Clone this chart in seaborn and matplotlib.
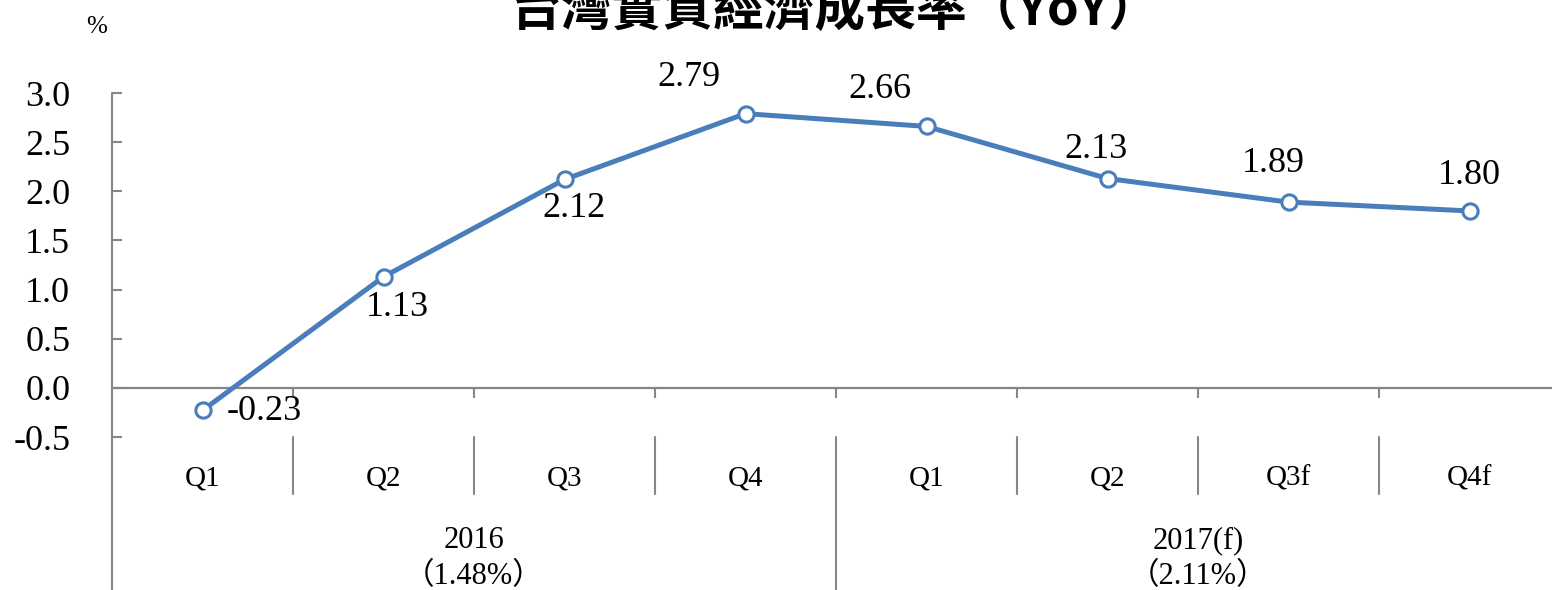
import numpy as np
import matplotlib
matplotlib.use("Agg")
import matplotlib.pyplot as plt
import matplotlib.transforms as mtrans
from matplotlib.ticker import FormatStrFormatter
import seaborn as sns
import pandas as pd

# ---- data ----
quarters = ["Q1", "Q2", "Q3", "Q4", "Q1", "Q2", "Q3f", "Q4f"]
growth = [-0.23, 1.13, 2.12, 2.79, 2.66, 2.13, 1.89, 1.80]
years = ["2016", "2017(f)"]
year_totals = ["（1.48%）", "（2.11%）"]
title = "台灣實質經濟成長率（YoY）"
y_ticks = [-0.5, 0.0, 0.5, 1.0, 1.5, 2.0, 2.5, 3.0]

# label offsets (pixels) relative to the points
label_offsets = [(62, -1), (14, -31), (10, -29), (-57, 36),
                 (-47, 37), (-11, 29), (-15, 39), (0, 35)]

sns.set_style("white")
plt.rcParams["font.family"] = ["Liberation Serif", "Noto Sans CJK TC", "DejaVu Sans"]
plt.rcParams["axes.unicode_minus"] = False
plt.rcParams["text.color"] = "black"
plt.rcParams["ytick.labelcolor"] = "black"

GRAY = "#868686"
BLUE = "#4a7ebb"

W, H = 1552, 590
fig = plt.figure(figsize=(W / 100, H / 100), dpi=100)
ax = fig.add_axes([112 / W, (H - 437) / H, (1560 - 112) / W, (437 - 93) / H])

df = pd.DataFrame({"x": np.arange(len(growth)), "y": growth})
sns.lineplot(data=df, x="x", y="y", ax=ax, color=BLUE, linewidth=3.6,
             marker="o", markersize=11, markerfacecolor="white",
             markeredgecolor=BLUE, markeredgewidth=2.2, zorder=5)

n = len(growth)
ax.set_xlim(-0.5, n - 0.5)
ax.set_ylim(-0.5, 3.0)
ax.set_xlabel("")
ax.set_ylabel("")
ax.set_xticks([])
ax.set_yticks(y_ticks)
ax.yaxis.set_major_formatter(FormatStrFormatter("%.1f"))
ax.tick_params(axis="y", direction="in", length=7, width=1.5, color=GRAY,
               labelsize=26, pad=30, left=True, labelcolor="black")
for s in ax.spines.values():
    s.set_visible(False)

blend = mtrans.blended_transform_factory(ax.transData, ax.transAxes)

# left spine extended downward
ax.plot([-0.5, -0.5], [1.0, -0.47], transform=blend, color=GRAY, lw=1.5,
        clip_on=False, zorder=3)
# zero line
ax.axhline(0, color=GRAY, lw=1.6, zorder=2)
# small ticks below zero line at category boundaries
bounds = np.arange(0.5, n, 1.0)
ax.vlines(bounds, -0.1, 0, color=GRAY, lw=1.5, zorder=2)

# category separators
for b in bounds:
    top = -0.47 if b == 3.5 else -0.166
    ax.plot([b, b], [0, top], transform=blend, color=GRAY, lw=1.5,
            clip_on=False)

# quarter labels
for i, q in enumerate(quarters):
    ax.text(i, -0.122, q, transform=blend, ha="center", va="center",
            fontsize=21, color="black", clip_on=False)

# year labels
for j, (yr, tot) in enumerate(zip(years, year_totals)):
    cx = 1.5 + 4 * j
    ax.text(cx, -0.302, yr, transform=blend, ha="center", va="center",
            fontsize=22, color="black", clip_on=False)
    ax.text(cx, -0.405, tot, transform=blend, ha="center", va="center",
            fontsize=22, color="black", clip_on=False)

# data labels
for i, (v, off) in enumerate(zip(growth, label_offsets)):
    ax.annotate(f"{v:.2f}", (i, v), xytext=off, textcoords="offset pixels",
                ha="center", va="center", fontsize=26, color="black", zorder=6)

# unit label
fig.text(97 / W, 1 - 27 / H, "%", ha="center", va="center", fontsize=18,
         color="black")

# title (clipped at top as in reference)
fig.text(835 / W, 1 - 25 / H, title, ha="center", va="baseline",
         fontsize=36.5, fontweight="bold", color="black",
         family=["Noto Sans CJK TC", "DejaVu Sans"])

fig.savefig("out.png", dpi=100)
